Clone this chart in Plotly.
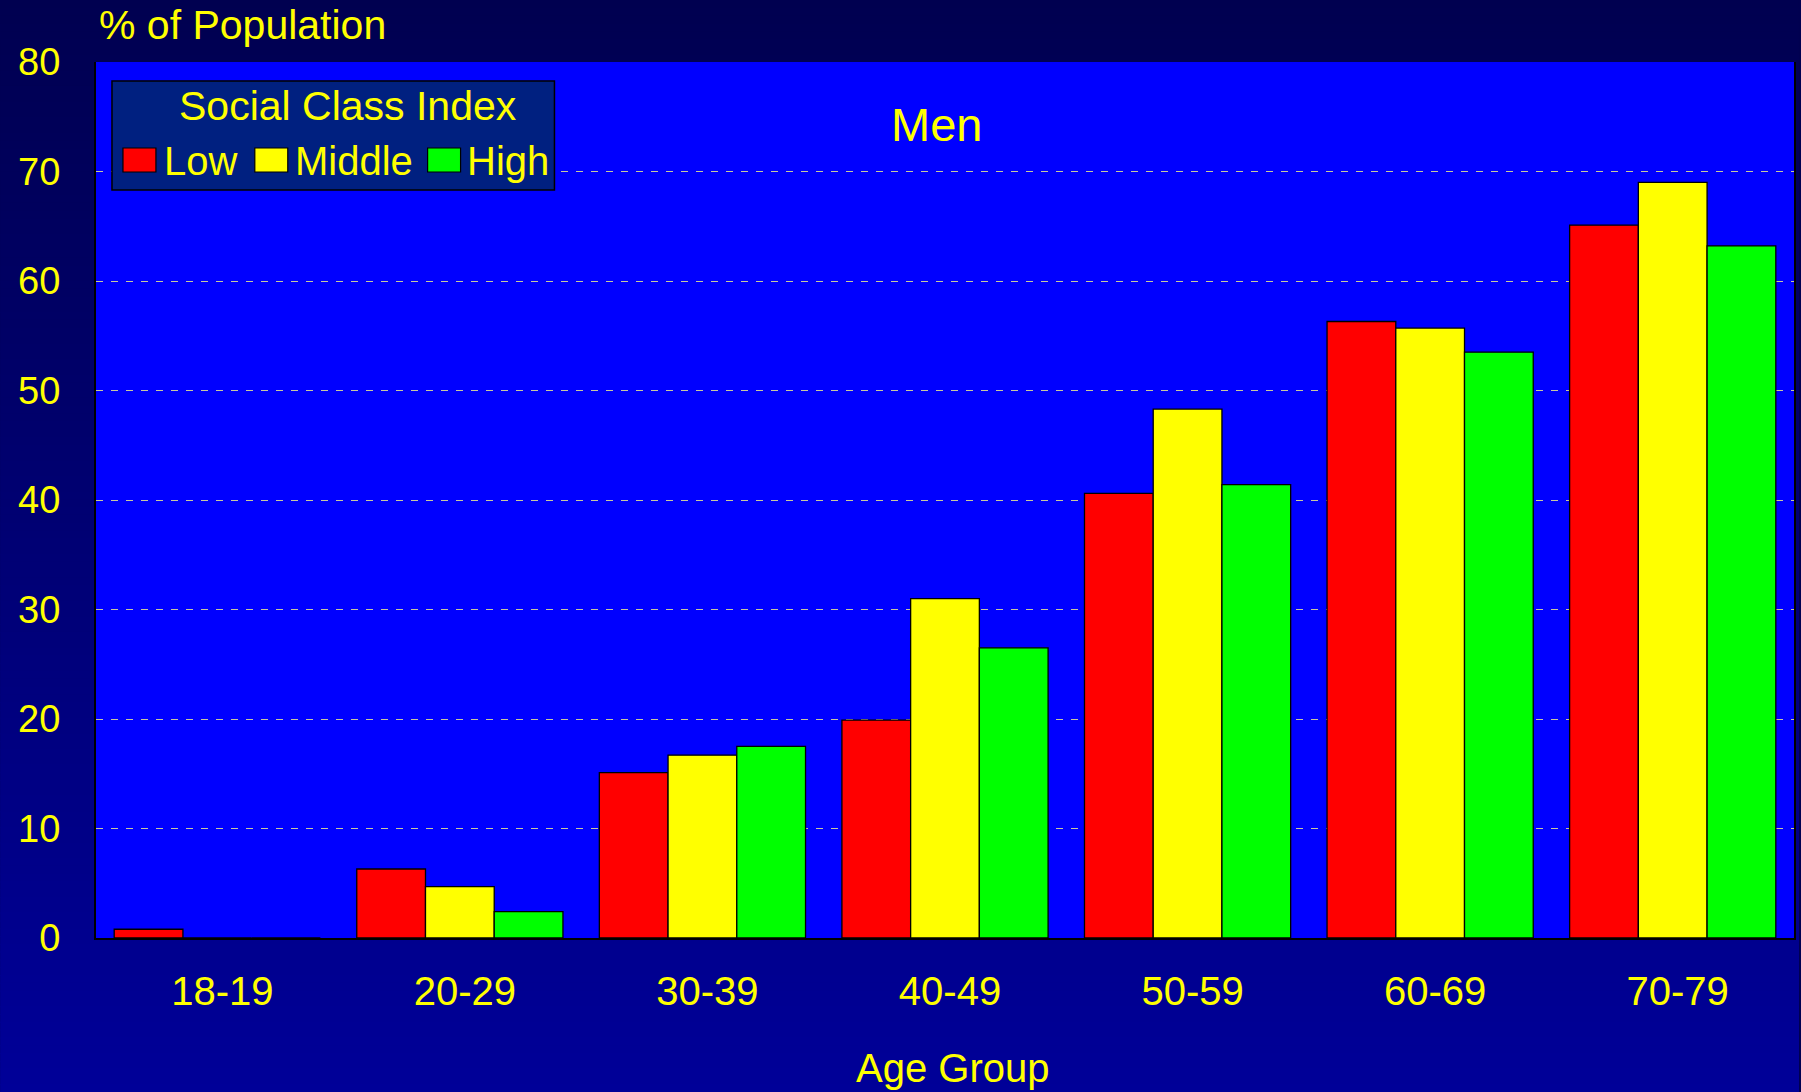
import plotly.graph_objects as go

# Age groups and share of population (%) by social class index
age_groups = ["18-19", "20-29", "30-39", "40-49", "50-59", "60-69", "70-79"]
low = [0.8, 6.3, 15.1, 19.9, 40.6, 56.3, 65.1]
middle = [0.0, 4.7, 16.7, 31.0, 48.3, 55.7, 69.0]
high = [0.0, 2.4, 17.5, 26.5, 41.4, 53.5, 63.2]

series_names = ["Low", "Middle", "High"]
series_values = [low, middle, high]
series_colors = ["#FF0000", "#FFFF00", "#00FF00"]

y_ticks = [0, 10, 20, 30, 40, 50, 60, 70, 80]

W, H = 1801, 1092
ML, MR, MT, MB = 96, 5, 62, 154
PW, PH = W - ML - MR, H - MT - MB

FONT = "Liberation Sans, Arial, sans-serif"
YELLOW = "#FFFF00"


def px_x(x):
    return (x - ML) / PW


def px_y(y):
    return (H - MB - y) / PH


fig = go.Figure()
for name, vals, col in zip(series_names, series_values, series_colors):
    fig.add_trace(go.Bar(
        x=age_groups, y=vals, name=name,
        marker=dict(color=col, line=dict(color="#000000", width=1.3)),
        showlegend=False,
    ))

shapes = []
# vertical background gradient from deep navy to royal navy
n_bands = 140
top_rgb = (0, 0, 80)
bot_rgb = (0, 0, 152)
for i in range(n_bands):
    t = i / (n_bands - 1)
    c = tuple(round(a + (b - a) * t) for a, b in zip(top_rgb, bot_rgb))
    y0 = i * H / n_bands
    y1 = (i + 1) * H / n_bands + 1
    shapes.append(dict(
        type="rect", xref="paper", yref="paper", layer="below",
        x0=px_x(0), x1=px_x(W), y0=px_y(y1), y1=px_y(y0),
        fillcolor=f"rgb{c}", line=dict(width=0),
    ))

# plot area fill on top of the gradient
shapes.append(dict(
    type="rect", xref="paper", yref="paper", layer="below",
    x0=0, x1=1, y0=0, y1=1,
    fillcolor="#0000FF", line=dict(width=0),
))

# legend box
shapes.append(dict(
    type="rect", xref="paper", yref="paper", layer="above",
    x0=px_x(112), x1=px_x(555), y0=px_y(190), y1=px_y(81),
    fillcolor="#002080", line=dict(color="#000000", width=1.5),
))


def label(text, x, y, size, xanchor="center"):
    return dict(text=text, x=px_x(x), y=px_y(y), xref="paper", yref="paper",
                showarrow=False, xanchor=xanchor, yanchor="middle",
                font=dict(size=size, color=YELLOW, family=FONT))


annotations = [
    label("Social Class Index", 348, 106, 41),
    label("Men", 937, 124, 47),
    label("% of Population", 97, 25, 41, xanchor="left"),
    label("Age Group", 954, 1068, 40),
]

# legend entries: swatch + label
swatch_x = [(123, 156), (255, 288), (428, 461)]
label_x = [162, 293, 465]
for (sx0, sx1), lx, name, col in zip(swatch_x, label_x, series_names, series_colors):
    shapes.append(dict(
        type="rect", xref="paper", yref="paper", layer="above",
        x0=px_x(sx0), x1=px_x(sx1), y0=px_y(172), y1=px_y(148),
        fillcolor=col, line=dict(color="#000000", width=1.2),
    ))
    annotations.append(label(name, lx, 161, 40, xanchor="left"))

fig.update_layout(
    width=W, height=H,
    margin=dict(l=ML, r=MR, t=MT, b=MB),
    paper_bgcolor="#000050",
    plot_bgcolor="#0000FF",
    barmode="group", bargap=0.15, bargroupgap=0,
    font=dict(family=FONT, color=YELLOW, size=38),
    shapes=shapes, annotations=annotations,
    showlegend=False,
)
fig.update_xaxes(
    type="category", showgrid=False, showline=True,
    linecolor="#000000", linewidth=2, ticks="", ticklabelstandoff=17,
    ticklabelshift=5,
    tickfont=dict(size=40, color=YELLOW, family=FONT),
)
fig.update_yaxes(
    range=[0, 80], tickvals=y_ticks, showline=True, mirror=True,
    linecolor="#000000", linewidth=2, ticks="", ticklabelstandoff=26,
    showgrid=True, gridcolor="#C8C8A0", gridwidth=1, griddash="7px,8px",
    zeroline=False,
    tickfont=dict(size=38, color=YELLOW, family=FONT),
)

fig.write_html("out.html")
